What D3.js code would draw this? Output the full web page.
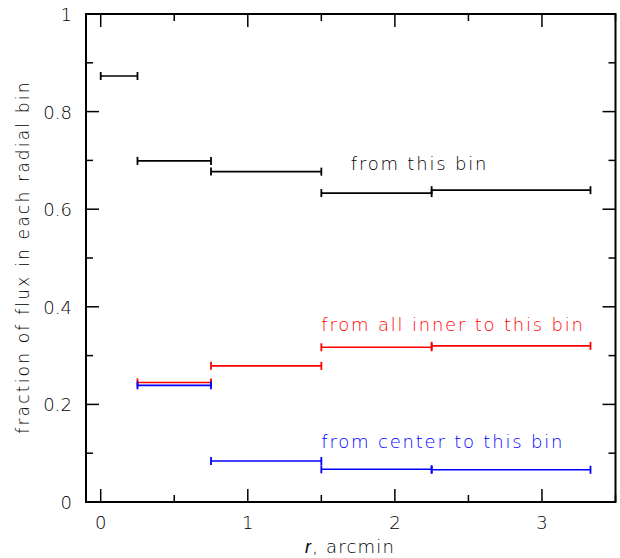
<!DOCTYPE html>
<html><head><meta charset="utf-8">
<script src="https://cdn.jsdelivr.net/npm/d3@7"></script>
<style>
body{margin:0;background:#fff;}
svg text{font-family:"DejaVu Sans",sans-serif;font-weight:300;}
</style></head>
<body><svg id="c" width="620" height="558"></svg>
<script>
const binLo = [0, 0.25, 0.75, 1.5, 2.25];
const binHi = [0.25, 0.75, 1.5, 2.25, 3.33];
const fromThisBin = [0.873, 0.699, 0.677, 0.633, 0.639];
const fromAllInner = [null, 0.245, 0.279, 0.317, 0.320];
const fromCenter = [null, 0.239, 0.084, 0.067, 0.066];
const seriesNames = ["from this bin", "from all inner to this bin", "from center to this bin"];
const seriesColors = ["#000000", "#ff0000", "#0000ff"];
const labelPos = [[1.7, 0.68], [1.5, 0.35], [1.5, 0.11]];
const xTicks = [0, 1, 2, 3];
const yTicks = [0, 0.2, 0.4, 0.6, 0.8, 1];
const yTickLabels = ["0", "0.2", "0.4", "0.6", "0.8", "1"];

const svg = d3.select("#c");
const L = 86, R = 615.5, T = 14, B = 502;
const x = d3.scaleLinear().domain([-0.1, 3.5]).range([L, R]);
const y = d3.scaleLinear().domain([0, 1]).range([B, T]);

const g = svg.append("g");
g.append("rect").attr("x", L).attr("y", T).attr("width", R - L).attr("height", B - T)
  .attr("fill", "none").attr("stroke", "#000").attr("stroke-width", 2);

const major = 13, minor = 7;
const xMinor = d3.range(-0.0, 3.51, 0.5).filter(v => !xTicks.includes(v));
const yMinor = d3.range(0.1, 1, 0.2);
function tickLines(vals, len, axis) {
  vals.forEach(v => {
    if (axis === "x") {
      g.append("line").attr("x1", x(v)).attr("x2", x(v)).attr("y1", B).attr("y2", B - len).attr("stroke", "#000").attr("stroke-width", 1.5);
      g.append("line").attr("x1", x(v)).attr("x2", x(v)).attr("y1", T).attr("y2", T + len).attr("stroke", "#000").attr("stroke-width", 1.5);
    } else {
      g.append("line").attr("y1", y(v)).attr("y2", y(v)).attr("x1", L).attr("x2", L + len).attr("stroke", "#000").attr("stroke-width", 1.5);
      g.append("line").attr("y1", y(v)).attr("y2", y(v)).attr("x1", R).attr("x2", R - len).attr("stroke", "#000").attr("stroke-width", 1.5);
    }
  });
}
tickLines(xTicks, major, "x");
tickLines(xMinor, minor, "x");
tickLines(yTicks, major, "y");
tickLines(yMinor, minor, "y");

g.selectAll(".xl").data(xTicks).enter().append("text")
  .attr("x", d => x(d)).attr("y", 529).attr("text-anchor", "middle")
  .attr("font-size", 18).attr("fill", "#000").text(d => d);
g.selectAll(".yl").data(yTicks).enter().append("text")
  .attr("x", 72).attr("y", d => y(d) + 7).attr("text-anchor", "end")
  .attr("font-size", 18).attr("fill", "#000").text((d, i) => yTickLabels[i]);

const xt = g.append("text").attr("x", 350).attr("y", 553).attr("text-anchor", "middle")
  .attr("font-size", 18).attr("fill", "#000").attr("letter-spacing", 1.2);
xt.append("tspan").attr("font-style", "italic").attr("font-family", "Liberation Sans").attr("font-weight", 400).text("r");
xt.append("tspan").text(", arcmin");
g.append("text").attr("transform", "translate(29,257) rotate(-90)").attr("text-anchor", "middle")
  .attr("font-size", 17).attr("fill", "#000").attr("letter-spacing", 2.2)
  .text("fraction of flux in each radial bin");

const allSeries = [fromThisBin, fromAllInner, fromCenter];
allSeries.forEach((vals, si) => {
  const col = seriesColors[si];
  const sg = g.append("g");
  const pts = vals.map((v, i) => ({ v, lo: binLo[i], hi: binHi[i] })).filter(d => d.v !== null);
  sg.selectAll("line.h").data(pts).enter().append("line")
    .attr("x1", d => x(d.lo)).attr("x2", d => x(d.hi)).attr("y1", d => y(d.v)).attr("y2", d => y(d.v))
    .attr("stroke", col).attr("stroke-width", 1.6);
  ["lo", "hi"].forEach(k => {
    sg.selectAll("line.c" + k).data(pts).enter().append("line")
      .attr("x1", d => x(d[k])).attr("x2", d => x(d[k])).attr("y1", d => y(d.v) - 4).attr("y2", d => y(d.v) + 4)
      .attr("stroke", col).attr("stroke-width", 1.8);
  });
  g.append("text").attr("x", x(labelPos[si][0])).attr("y", y(labelPos[si][1]))
    .attr("font-size", 18).attr("fill", col).attr("letter-spacing", 1.8).text(seriesNames[si]);
});
</script></body></html>
